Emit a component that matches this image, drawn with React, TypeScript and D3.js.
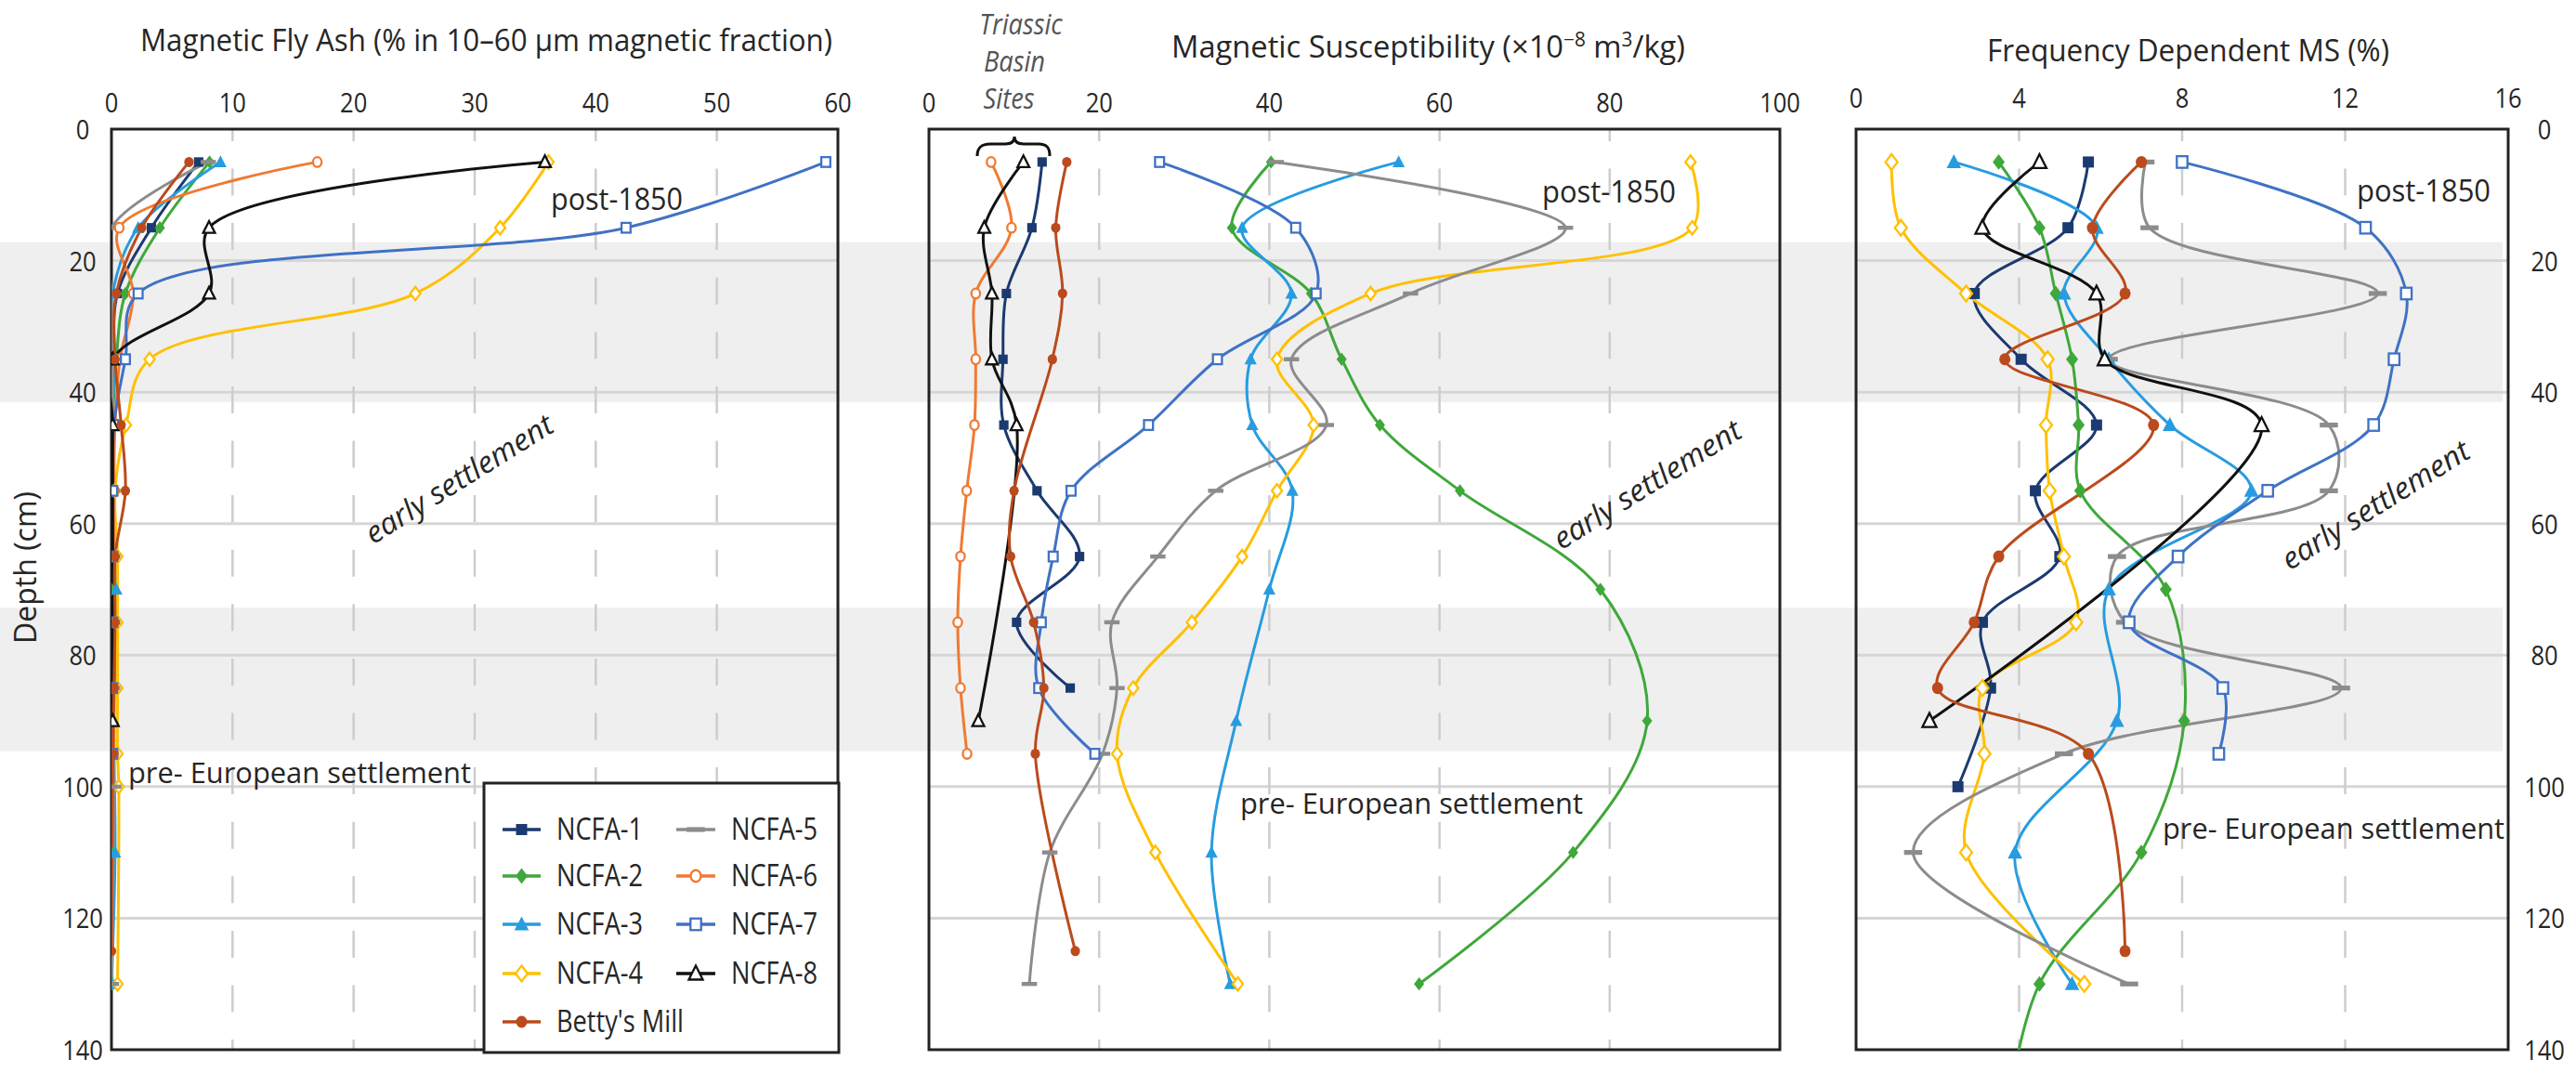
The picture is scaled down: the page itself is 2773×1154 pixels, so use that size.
import React from 'react';
import * as d3 from 'd3';

type Pt = [number, number]; // [depth (cm), value]

// ---------- Panel 1: Magnetic Fly Ash (%) ----------
const FA_NCFA1: Pt[] = [[5, 7.2], [15, 3.3], [25, 0.5], [35, 0.2], [45, 0.1], [55, 0.1], [65, 0.1], [75, 0.1], [85, 0.1]];
const FA_NCFA2: Pt[] = [[5, 8.1], [15, 4.0], [25, 1.15], [35, 0.4], [45, 0.1], [55, 0.1], [70, 0], [90, 0], [110, 0], [130, 0.05]];
const FA_NCFA3: Pt[] = [[5, 9.0], [15, 2.2], [25, 0.1], [35, 0.2], [45, 0.1], [55, 0.1], [70, 0.4], [90, 0.2], [110, 0.3], [130, 0]];
const FA_NCFA4: Pt[] = [[5, 36.1], [15, 32.1], [25, 25.1], [35, 3.15], [45, 1.2], [55, 0.3], [65, 0.5], [75, 0.5], [85, 0.5], [95, 0.5], [100, 0.6], [130, 0.5]];
const FA_NCFA5: Pt[] = [[5, 8.0], [15, 0], [25, 0], [35, 0.1], [45, 0.1], [55, 0.1], [65, 0.1], [75, 0.1], [85, 0.1], [100, 0.2], [130, 0]];
const FA_NCFA6: Pt[] = [[5, 17.0], [15, 0.64], [25, 1.8], [35, 0.7], [45, 0.3], [55, 0.2], [65, 0.2], [75, 0.2], [85, 0.2], [95, 0.2]];
const FA_NCFA7: Pt[] = [[5, 59.0], [15, 42.5], [25, 2.2], [35, 1.15], [45, 0.2], [55, 0.1], [65, 0.1], [75, 0.1], [85, 0.1], [95, 0.1]];
const FA_NCFA8: Pt[] = [[5, 35.8], [15, 8.06], [25, 8.06], [35, 0.1], [45, 0.1], [90, 0.1]];
const FA_BETTY: Pt[] = [[5, 6.4], [15, 2.5], [25, 0.4], [35, 0.3], [45, 0.8], [55, 1.15], [65, 0.3], [75, 0.3], [85, 0.2], [95, 0.1], [125, 0]];

// ---------- Panel 2: Magnetic Susceptibility ----------
const MS_NCFA1: Pt[] = [[5, 13.3], [15, 12.1], [25, 9.1], [35, 8.7], [45, 8.8], [55, 12.7], [65, 17.7], [75, 10.3], [85, 16.6]];
const MS_NCFA2: Pt[] = [[5, 40.2], [15, 35.6], [25, 44.9], [35, 48.5], [45, 53.0], [55, 62.4], [70, 78.9], [90, 84.4], [110, 75.7], [130, 57.6]];
const MS_NCFA3: Pt[] = [[5, 55.2], [15, 36.8], [25, 42.6], [35, 37.8], [45, 38.0], [55, 42.7], [70, 40.0], [90, 36.1], [110, 33.2], [130, 35.4]];
const MS_NCFA4: Pt[] = [[5, 89.5], [15, 89.7], [25, 51.9], [35, 40.9], [45, 45.2], [55, 40.9], [65, 36.8], [75, 30.9], [85, 24.0], [95, 22.1], [110, 26.6], [130, 36.3]];
const MS_NCFA5: Pt[] = [[5, 40.8], [15, 74.8], [25, 56.6], [35, 42.6], [45, 46.7], [55, 33.7], [65, 26.9], [75, 21.5], [85, 22.1], [95, 20.4], [110, 14.2], [130, 11.8]];
const MS_NCFA6: Pt[] = [[5, 7.3], [15, 9.7], [25, 5.5], [35, 5.5], [45, 5.35], [55, 4.44], [65, 3.71], [75, 3.38], [85, 3.71], [95, 4.48]];
const MS_NCFA7: Pt[] = [[5, 27.1], [15, 43.1], [25, 45.5], [35, 33.9], [45, 25.8], [55, 16.7], [65, 14.6], [75, 13.2], [85, 12.9], [95, 19.5]];
const MS_NCFA8: Pt[] = [[5, 11.1], [15, 6.5], [25, 7.4], [35, 7.4], [45, 10.3], [90, 5.8]];
const MS_BETTY: Pt[] = [[5, 16.2], [15, 14.9], [25, 15.7], [35, 14.5], [55, 10.0], [65, 9.6], [75, 12.3], [85, 13.5], [95, 12.5], [125, 17.2]];

// ---------- Panel 3: Frequency Dependent MS (%) ----------
const FD_NCFA1: Pt[] = [[5, 5.7], [15, 5.2], [25, 2.9], [35, 4.05], [45, 5.9], [55, 4.4], [65, 5.0], [75, 3.1], [85, 3.3], [100, 2.5]];
const FD_NCFA2: Pt[] = [[5, 3.5], [15, 4.5], [25, 4.9], [35, 5.3], [45, 5.46], [55, 5.5], [70, 7.6], [90, 8.05], [110, 7.0], [130, 4.5], [150, 3.7]];
const FD_NCFA3: Pt[] = [[5, 2.4], [15, 5.9], [25, 5.1], [35, 6.2], [45, 7.7], [55, 9.7], [70, 6.2], [90, 6.4], [110, 3.9], [130, 5.3]];
const FD_NCFA4: Pt[] = [[5, 0.87], [15, 1.1], [25, 2.7], [35, 4.7], [45, 4.66], [55, 4.75], [65, 5.1], [75, 5.4], [85, 3.1], [95, 3.15], [110, 2.7], [130, 5.6]];
const FD_NCFA5: Pt[] = [[5, 7.1], [15, 7.2], [25, 12.8], [35, 6.2], [45, 11.6], [55, 11.6], [65, 6.4], [75, 6.6], [85, 11.9], [95, 5.1], [110, 1.4], [130, 6.7]];
const FD_NCFA7: Pt[] = [[5, 8.0], [15, 12.5], [25, 13.5], [35, 13.2], [45, 12.7], [55, 10.1], [65, 7.9], [75, 6.7], [85, 9.0], [95, 8.9]];
const FD_NCFA8: Pt[] = [[5, 4.5], [15, 3.1], [25, 5.9], [35, 6.1], [45, 9.95], [90, 1.8]];
const FD_BETTY: Pt[] = [[5, 7.0], [15, 5.8], [25, 6.6], [35, 3.65], [45, 7.3], [65, 3.5], [75, 2.9], [85, 2.0], [95, 5.7], [125, 6.6]];

// ---------- Series, ticks, bands ----------
const SERIES_NAMES = ['NCFA-1', 'NCFA-2', 'NCFA-3', 'NCFA-4', 'NCFA-5', 'NCFA-6', 'NCFA-7', 'NCFA-8', "Betty's Mill"];
const SERIES_COLORS = ['#1b3a70', '#3fa83a', '#279ce0', '#ffc000', '#8c8c8c', '#f07a32', '#3f72c4', '#111111', '#bb4a1c'];
const SERIES_MARKERS = ['square', 'diamond', 'triangle', 'diamondOpen', 'dash', 'circleOpen', 'squareOpen', 'triangleOpen', 'circle'];

const DEPTH_TICKS = [0, 20, 40, 60, 80, 100, 120, 140];
const FA_TICKS = [0, 10, 20, 30, 40, 50, 60];
const MS_TICKS = [0, 20, 40, 60, 80, 100];
const FD_TICKS = [0, 4, 8, 12, 16];
const BANDS: [number, number][] = [[17.2, 41.5], [72.8, 94.6]];

const W = 2773;
const H = 1154;
const FONT = "'Open Sans', 'DejaVu Sans', sans-serif";
const TXT = '#262626';
const SX = 0.85;

const yScale = d3.scaleLinear().domain([0, 140]).range([139, 1130]);

type Panel = {
  id: string;
  x: d3.ScaleLinear<number, number>;
  ticks: number[];
  tickY: number;
  data: (Pt[] | null)[];
  ms: number;
};

const PANELS: Panel[] = [
  { id: 'fa', x: d3.scaleLinear().domain([0, 60]).range([120, 902]), ticks: FA_TICKS, tickY: 121, ms: 1.1,
    data: [FA_NCFA1, FA_NCFA2, FA_NCFA3, FA_NCFA4, FA_NCFA5, FA_NCFA6, FA_NCFA7, FA_NCFA8, FA_BETTY] },
  { id: 'ms', x: d3.scaleLinear().domain([0, 100]).range([1000, 1916]), ticks: MS_TICKS, tickY: 121, ms: 1.1,
    data: [MS_NCFA1, MS_NCFA2, MS_NCFA3, MS_NCFA4, MS_NCFA5, MS_NCFA6, MS_NCFA7, MS_NCFA8, MS_BETTY] },
  { id: 'fd', x: d3.scaleLinear().domain([0, 16]).range([1998, 2700]), ticks: FD_TICKS, tickY: 116, ms: 1.3,
    data: [FD_NCFA1, FD_NCFA2, FD_NCFA3, FD_NCFA4, FD_NCFA5, null, FD_NCFA7, FD_NCFA8, FD_BETTY] },
];

function Marker({ type, x, y, color, s }: { type: string; x: number; y: number; color: string; s: number }) {
  const sw = 2.3;
  switch (type) {
    case 'square':
      return <rect x={x - 4.6 * s} y={y - 4.6 * s} width={9.2 * s} height={9.2 * s} fill={color} />;
    case 'diamond':
      return <path d={`M${x},${y - 6.5 * s}L${x + 5 * s},${y}L${x},${y + 6.5 * s}L${x - 5 * s},${y}Z`} fill={color} />;
    case 'triangle':
      return <path d={`M${x},${y - 6.5 * s}L${x + 6 * s},${y + 5 * s}L${x - 6 * s},${y + 5 * s}Z`} fill={color} />;
    case 'diamondOpen':
      return <path d={`M${x},${y - 6.5 * s}L${x + 5 * s},${y}L${x},${y + 6.5 * s}L${x - 5 * s},${y}Z`} fill="#fff" stroke={color} strokeWidth={sw} />;
    case 'dash':
      return <rect x={x - 7.5 * s} y={y - 2 * s} width={15 * s} height={4 * s} fill={color} />;
    case 'circleOpen':
      return <ellipse cx={x} cy={y} rx={4.2 * s} ry={4.8 * s} fill="#fff" stroke={color} strokeWidth={sw} />;
    case 'squareOpen':
      return <rect x={x - 4.4 * s} y={y - 4.8 * s} width={8.8 * s} height={9.6 * s} fill="#fff" stroke={color} strokeWidth={sw} />;
    case 'triangleOpen':
      return <path d={`M${x},${y - 6.5 * s}L${x + 5.8 * s},${y + 5 * s}L${x - 5.8 * s},${y + 5 * s}Z`} fill="#fff" stroke={color} strokeWidth={sw} />;
    case 'circle':
    default:
      return <ellipse cx={x} cy={y} rx={4.6 * s} ry={5 * s} fill={color} />;
  }
}

function CText(props: { x: number; y: number; size: number; anchor?: string; sx?: number; italic?: boolean; fill?: string; rotate?: number; children: React.ReactNode }) {
  const { x, y, size, anchor = 'start', sx = SX, italic = false, fill = TXT, rotate = 0, children } = props;
  return (
    <text transform={`translate(${x},${y}) rotate(${rotate}) scale(${sx},1)`} fontSize={size} textAnchor={anchor as any}
      fontStyle={italic ? 'italic' : 'normal'} fill={fill} fontFamily={FONT}>{children}</text>
  );
}

function LText(props: { x: number; y: number; size: number; len: number; anchor?: string; italic?: boolean; fill?: string; rotate?: number; children: React.ReactNode }) {
  const { x, y, size, len, anchor = 'start', italic = false, fill = TXT, rotate = 0, children } = props;
  return (
    <text transform={`translate(${x},${y}) rotate(${rotate})`} fontSize={size} textAnchor={anchor as any} textLength={len}
      lengthAdjust="spacingAndGlyphs" fontStyle={italic ? 'italic' : 'normal'} fill={fill} fontFamily={FONT}>{children}</text>
  );
}

function PanelView({ p }: { p: Panel }) {
  const [x0, x1] = p.x.range();
  const [y0, y1] = yScale.range();
  const line = d3.line<Pt>().x(d => p.x(d[1])).y(d => yScale(d[0])).curve(d3.curveCatmullRom.alpha(0.5));
  const clipId = `clip-${p.id}`;
  return (
    <g>
      <defs>
        <clipPath id={clipId}><rect x={x0} y={y0} width={x1 - x0} height={y1 - y0} /></clipPath>
      </defs>
      {DEPTH_TICKS.filter(t => t > 0 && t < 140).map(t => (
        <line key={`h${t}`} x1={x0} x2={x1} y1={yScale(t)} y2={yScale(t)} stroke="#d6d6d6" strokeWidth={3} />
      ))}
      {p.ticks.slice(1, -1).map(t => (
        <line key={`v${t}`} x1={p.x(t)} x2={p.x(t)} y1={y0} y2={y1} stroke="#cdcdcd" strokeWidth={2.5}
          strokeDasharray="29 29.6" strokeDashoffset={16.1} />
      ))}
      <rect x={x0} y={y0} width={x1 - x0} height={y1 - y0} fill="none" stroke="#222" strokeWidth={3} />
      <g clipPath={`url(#${clipId})`}>
        {p.data.map((d, i) => d ? (
          <path key={`l${i}`} d={line(d) || ''} fill="none" stroke={SERIES_COLORS[i]} strokeWidth={3} />
        ) : null)}
        {p.data.map((d, i) => d ? (
          <g key={`m${i}`}>
            {d.filter(pt => pt[0] <= 140).map((pt, j) => (
              <Marker key={j} type={SERIES_MARKERS[i]} x={p.x(pt[1])} y={yScale(pt[0])} color={SERIES_COLORS[i]} s={p.ms} />
            ))}
          </g>
        ) : null)}
      </g>
      {p.ticks.map(t => (
        <CText key={`t${t}`} x={p.x(t)} y={p.tickY} size={30} anchor="middle">{t}</CText>
      ))}
    </g>
  );
}

function Legend() {
  const rows = [893, 943, 995, 1048, 1100];
  const cols = [{ lx: 541, rx: 582, tx: 599 }, { lx: 728, rx: 770, tx: 787 }];
  const order = [[0, 0, 0], [1, 0, 1], [2, 0, 2], [3, 0, 3], [8, 0, 4], [4, 1, 0], [5, 1, 1], [6, 1, 2], [7, 1, 3]];
  return (
    <g>
      <rect x={521} y={843} width={382} height={290} fill="#fff" stroke="#222" strokeWidth={3} />
      {order.map(([si, c, r]) => {
        const col = cols[c];
        const y = rows[r];
        return (
          <g key={si}>
            <line x1={col.lx} x2={col.rx} y1={y} y2={y} stroke={SERIES_COLORS[si]} strokeWidth={3.5} />
            <Marker type={SERIES_MARKERS[si]} x={(col.lx + col.rx) / 2} y={y} color={SERIES_COLORS[si]} s={1.3} />
            <CText x={col.tx} y={y + 11} size={32}>{SERIES_NAMES[si]}</CText>
          </g>
        );
      })}
    </g>
  );
}

export default function App() {
  return (
    <div style={{ position: 'absolute', left: 0, top: 0, width: W, height: H, background: '#fff' }}>
      <svg width={W} height={H} viewBox={`0 0 ${W} ${H}`} style={{ display: 'block' }}>
        <rect x={0} y={0} width={W} height={H} fill="#fff" />
        {BANDS.map(([a, b], i) => (
          <rect key={i} x={0} y={yScale(a)} width={2694} height={yScale(b) - yScale(a)} fill="#efefef" />
        ))}
        {PANELS.map(p => <PanelView key={p.id} p={p} />)}

        {DEPTH_TICKS.map(t => (
          <CText key={`dl${t}`} x={89} y={yScale(t) + 11} size={30} anchor="middle">{t}</CText>
        ))}
        {DEPTH_TICKS.map(t => (
          <CText key={`dr${t}`} x={2739} y={yScale(t) + 11} size={30} anchor="middle">{t}</CText>
        ))}
        <text transform="translate(39,611) rotate(-90)" fontSize={32} textAnchor="middle" fill={TXT} fontFamily={FONT}>Depth (cm)</text>

        <LText x={151} y={55} size={32} len={745}>Magnetic Fly Ash (% in 10–60 µm magnetic fraction)</LText>
        <LText x={1261} y={62} size={33} len={553}>
          Magnetic Susceptibility (×10<tspan fontSize={21} dy={-12}>−8</tspan><tspan dy={12}> m</tspan><tspan fontSize={21} dy={-12}>3</tspan><tspan dy={12}>/kg)</tspan>
        </LText>
        <LText x={2139} y={66} size={33} len={433}>Frequency Dependent MS (%)</LText>

        <CText x={1099} y={37} size={31} anchor="middle" italic fill="#555" sx={0.88}>Triassic</CText>
        <CText x={1092} y={77} size={31} anchor="middle" italic fill="#555" sx={0.88}>Basin</CText>
        <CText x={1086} y={117} size={31} anchor="middle" italic fill="#555" sx={0.88}>Sites</CText>
        <path d="M1052,168 C1052,159 1056,155 1066,155 L1082,155 C1089,155 1092,152 1092,147 C1092,152 1095,155 1102,155 L1118,155 C1127,155 1130,159 1130,168"
          fill="none" stroke="#111" strokeWidth={3} />

        <LText x={593} y={226} size={33} len={142}>post-1850</LText>
        <LText x={1660} y={218} size={33} len={144}>post-1850</LText>
        <LText x={2537} y={217} size={33} len={144}>post-1850</LText>

        <LText x={500} y={525} size={32} len={232} anchor="middle" italic rotate={-32}>early settlement</LText>
        <LText x={1779} y={531} size={32} len={232} anchor="middle" italic rotate={-32}>early settlement</LText>
        <LText x={2563} y={553} size={32} len={232} anchor="middle" italic rotate={-32}>early settlement</LText>

        <LText x={138} y={843} size={31} len={369}>pre- European settlement</LText>
        <LText x={1335} y={876} size={31} len={369}>pre- European settlement</LText>
        <LText x={2328} y={903} size={31} len={368}>pre- European settlement</LText>

        <Legend />
      </svg>
    </div>
  );
}
